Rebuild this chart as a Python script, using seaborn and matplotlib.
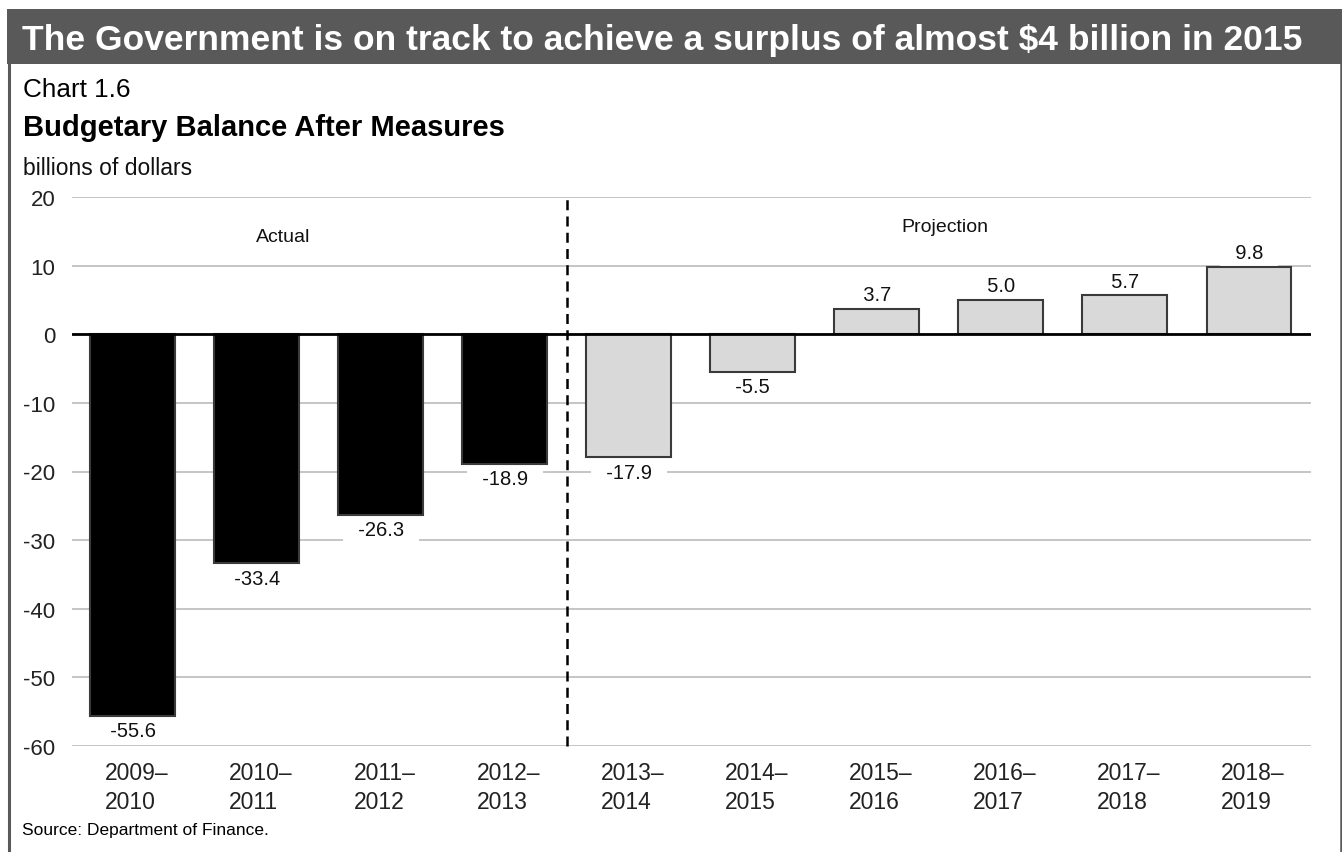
import matplotlib
matplotlib.use("Agg")
import matplotlib.pyplot as plt
import matplotlib.transforms as mtransforms
import seaborn as sns
from matplotlib.patches import Rectangle
from matplotlib.lines import Line2D

periods = ["2009–\n2010", "2010–\n2011", "2011–\n2012", "2012–\n2013", "2013–\n2014",
           "2014–\n2015", "2015–\n2016", "2016–\n2017", "2017–\n2018", "2018–\n2019"]
balance = [-55.6, -33.4, -26.3, -18.9, -17.9, -5.5, 3.7, 5.0, 5.7, 9.8]
kind = ["Actual"] * 4 + ["Projection"] * 6

HEADER = "The Government is on track to achieve a surplus of almost $4 billion in 2015"
FRAME = "#595959"

sns.set_theme(style="white")
plt.rcParams["font.family"] = ["Liberation Sans", "DejaVu Sans"]
plt.rcParams["axes.unicode_minus"] = False

W, H = 1342, 853
fig = plt.figure(figsize=(W / 100, H / 100), dpi=100)

# page frame: dark header bar plus side rules
fig.add_artist(Rectangle((7 / W, 1 - 65 / H), 1 - 7 / W, 55 / H,
                         transform=fig.transFigure, color=FRAME, lw=0))
fig.add_artist(Line2D([8.5 / W, 8.5 / W], [0, 1 - 65 / H], transform=fig.transFigure,
                      color=FRAME, lw=2.2))
fig.add_artist(Line2D([1340.5 / W, 1340.5 / W], [0, 1 - 65 / H], transform=fig.transFigure,
                      color=FRAME, lw=1.8))
fig.text(22 / W, 1 - 50 / H, HEADER, color="white", fontsize=25.5, fontweight="bold", va="baseline")
fig.text(23 / W, 1 - 97 / H, "Chart 1.6", color="black", fontsize=18.8, va="baseline")
fig.text(23 / W, 1 - 136 / H, "Budgetary Balance After Measures", color="black",
         fontsize=21, fontweight="bold", va="baseline")
fig.text(23 / W, 1 - 175 / H, "billions of dollars", color="#111111", fontsize=16.5, va="baseline")
fig.text(22 / W, 1 - 835 / H, "Source: Department of Finance.", color="black",
         fontsize=12.5, va="baseline")

ax = fig.add_axes([72 / W, 1 - 747 / H, (1311 - 72) / W, (747 - 198) / H])

palette = {"Actual": "black", "Projection": "#d9d9d9"}
sns.barplot(x=periods, y=balance, hue=kind, palette=palette, dodge=False, legend=False,
            width=0.685, edgecolor="#3a3a3a", linewidth=1.5, saturation=1, ax=ax)
for p in ax.patches:
    p.set_zorder(2)

ax.set_ylim(-60, 20)
ax.set_xlim(-0.49, 9.5)
ax.set_yticks(range(-60, 21, 10))
ax.set_axisbelow(True)
ax.yaxis.grid(True, color="#b5b5b5", lw=1.1)
ax.axhline(0, color="black", lw=2, zorder=3)
for s in ax.spines.values():
    s.set_visible(False)
ax.tick_params(axis="both", length=0, labelsize=16, colors="#222222")
ax.tick_params(axis="x", labelsize=16.5, pad=11)
ax.tick_params(axis="y", pad=12)
shift = mtransforms.ScaledTranslation(4 / 100, 0, fig.dpi_scale_trans)
for lbl in ax.get_xticklabels():
    lbl.set_multialignment("left")
    lbl.set_linespacing(1.3)
    lbl.set_transform(lbl.get_transform() + shift)
ax.set_xlabel("")
ax.set_ylabel("")

# divider between actual and projected years
ax.vlines(3.5, -60, 20.5, colors="black", lw=1.8, linestyles=(0, (4, 2.5)), zorder=6, clip_on=False)
ax.text(1.21, 14.3, "Actual", fontsize=14, ha="center", va="center", color="#111111")
ax.text(6.55, 15.7, "Projection", fontsize=14, ha="center", va="center", color="#111111")

for i, v in enumerate(balance):
    off = -15 if v < 0 else 14
    ax.annotate(f"  {v:.1f}  ", (i, v), xytext=(0, off), textcoords="offset pixels",
                ha="center", va="center", fontsize=14.5, color="#111111", zorder=1.5,
                bbox=dict(boxstyle="square,pad=0.2", fc="white", ec="none"))

fig.savefig("out.png", dpi=100, facecolor="white")
